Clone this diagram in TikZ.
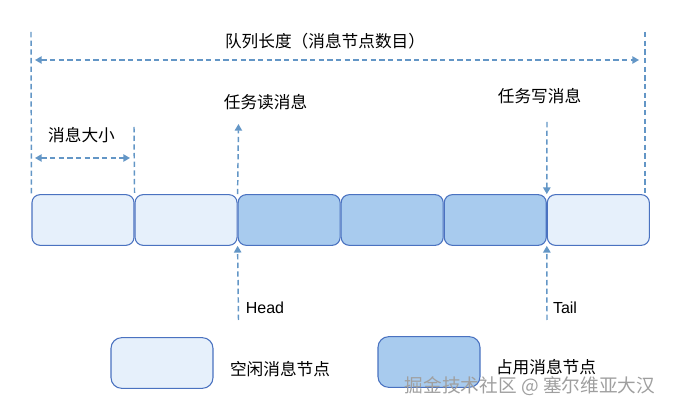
\documentclass[tikz,border=0pt]{standalone}
\usepackage{fontspec}
\setmainfont{Liberation Sans}
\newfontfamily\cjkfont{Noto Sans CJK SC}
\usepackage{xcolor}
\usepackage{tikz}
\usetikzlibrary{arrows.meta, positioning}

\definecolor{freefill}{HTML}{E6F0FB}
\definecolor{usedfill}{HTML}{A8CBEE}
\definecolor{slotline}{HTML}{4A72C0}
\definecolor{dimline}{HTML}{6396C6}

\tikzset{
  slot/.style={draw=slotline, line width=0.8pt, rounded corners=6pt, minimum width=76.5pt, minimum height=38pt, inner sep=0pt},
  freeslot/.style={slot, fill=freefill},
  usedslot/.style={slot, fill=usedfill},
  dimline/.style={draw=dimline, line width=1.1pt, dash pattern=on 4pt off 2.5pt},
  dimtip/.style={{Triangle[width=5.5pt,length=5pt]}}
}

\begin{document}
\begin{tikzpicture}[x=0.75pt, y=-0.75pt, node distance=0pt, every node/.style={font=\cjkfont\fontsize{12.5}{15}\selectfont}]
    \useasboundingbox (0,0) rectangle (674,409);
    % queue
    \node[freeslot] (s1) at (83,220) {};
    \node[freeslot,right=of s1] (s2) {};
    \node[usedslot,right=of s2] (s3) {};
    \node[usedslot,right=of s3] (s4) {};
    \node[usedslot,right=of s4] (s5) {};
    \node[freeslot,right=of s5] (s6) {};
    % queue length
    \coordinate (lentop) at (31,32);
    \coordinate (rentop) at (645,32);
    \coordinate (rendown) at (645,195);
    \coordinate (lenl) at (35,60);
    \coordinate (lenr) at (639,60);
    \draw[dimline] (lentop) -- (s1.north west);
    \draw[dimline] (rentop) -- (rendown);
    \draw[dimline,{Triangle[width=5.5pt,length=5pt]}-{Triangle[width=5.5pt,length=5pt]}] (lenl) -- (lenr);
    \node (len) at (325,41) {队列长度（消息节点数目）};
    % message size
    \coordinate (sizetop) at (134,127);
    \coordinate (sizel) at (35,158);
    \coordinate (sizer) at (130,158);
    \draw[dimline] (sizetop) -- (s1.north east);
    \draw[dimline,{Triangle[width=5.5pt,length=5pt]}-{Triangle[width=5.5pt,length=5pt]}] (sizel) -- (sizer);
    \node (size) at (81.5,135) {消息大小};
    % read / write
    \node (rd) at (265.5,102) {任务读消息};
    \node (wr) at (539.5,96) {任务写消息};
    \coordinate (rdtip) at (238.5,124);
    \coordinate (wrtop) at (547,122);
    \draw[dimline,-{Triangle[width=5.5pt,length=5pt]}] (s3.north west) -- (rdtip);
    \draw[dimline,-{Triangle[width=5.5pt,length=5pt]}] (wrtop) -- (s6.north west);
    % head / tail
    \coordinate (headend) at (238.5,320);
    \coordinate (tailend) at (547,320);
    \draw[dimline,-{Triangle[width=5.5pt,length=5pt]}] (headend) -- (s3.south west);
    \draw[dimline,-{Triangle[width=5.5pt,length=5pt]}] (tailend) -- (s6.south west);
    \node[font=\fontsize{12}{14}\selectfont] (head) at (265,308) {Head};
    \node[font=\fontsize{12}{14}\selectfont] (tail) at (565,308) {Tail};
    % legend
    \node[freeslot,rounded corners=8pt] (kfree) at (162,363) {};
    \node (kfreetxt) at (280,369) {空闲消息节点};
    \node[usedslot,rounded corners=8pt] (kused) at (429,362) {};
    \node (kusedtxt) at (546,367) {占用消息节点};
    \node[text=gray!75,font=\cjkfont\fontsize{14}{16}\selectfont] (mark) at (530,386) {掘金技术社区 @ 塞尔维亚大汉};
  \end{tikzpicture}
\end{document}
